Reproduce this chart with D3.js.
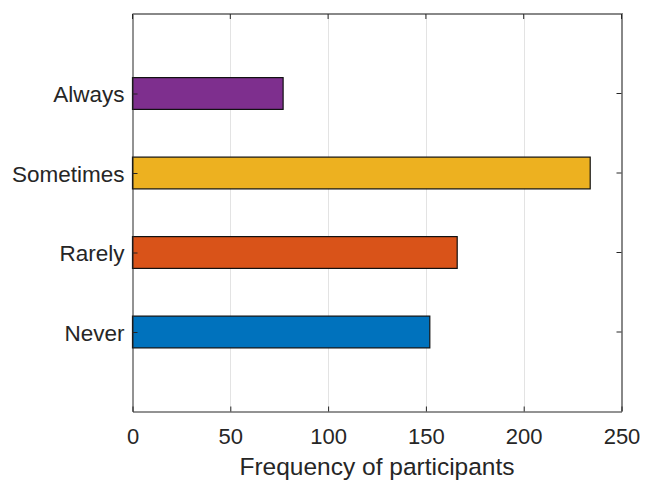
<!DOCTYPE html>
<html>
<head>
<meta charset="utf-8">
<script src="https://cdn.jsdelivr.net/npm/d3@7"></script>
<style>
  html, body { margin: 0; padding: 0; background: #fff; }
  svg { display: block; }
  text { font-family: "Liberation Sans", Arial, Helvetica, sans-serif; fill: #262626; }
</style>
</head>
<body>
<svg id="chart" width="650" height="480"></svg>
<script>
// Survey responses: how often participants answer each way
const categories = ["Never", "Rarely", "Sometimes", "Always"];
const counts = [152, 166, 234, 77];
const barColors = ["#0072BD", "#D95319", "#EDB120", "#7E2F8E"];
const xTicks = [0, 50, 100, 150, 200, 250];
const xLabel = "Frequency of participants";

const svg = d3.select("#chart");
const plotLeft = 132.5, plotRight = 621.5, plotTop = 14, plotBottom = 411.5;
const tickLen = 5;
const axisColor = "#262626";

const x = d3.scaleLinear().domain([0, 250]).range([plotLeft, plotRight]);
// categories sit at positions 1..4 on a 0..5 axis
const y = d3.scaleLinear().domain([0, 5]).range([plotBottom, plotTop]);
const barHalf = 0.2;

// vertical grid lines
svg.append("g")
  .selectAll("line")
  .data(xTicks.filter(t => t > 0 && t < 250))
  .join("line")
  .attr("x1", d => Math.round(x(d)) + 0.5)
  .attr("x2", d => Math.round(x(d)) + 0.5)
  .attr("y1", plotTop)
  .attr("y2", plotBottom)
  .attr("stroke", "#e3e3e3")
  .attr("stroke-width", 1);

// bars
svg.append("g")
  .selectAll("rect")
  .data(categories)
  .join("rect")
  .attr("x", x(0))
  .attr("y", (d, i) => y(i + 1 + barHalf))
  .attr("width", (d, i) => x(counts[i]) - x(0))
  .attr("height", (d, i) => y(i + 1 - barHalf) - y(i + 1 + barHalf))
  .attr("fill", (d, i) => barColors[i])
  .attr("stroke", "#111")
  .attr("stroke-width", 1.2);

// box: top and right edges
svg.append("line")
  .attr("x1", plotLeft).attr("x2", plotRight + 1).attr("y1", plotTop).attr("y2", plotTop)
  .attr("stroke", "#888").attr("stroke-width", 2);
svg.append("line")
  .attr("x1", plotRight + 0.5).attr("x2", plotRight + 0.5).attr("y1", plotTop - 1).attr("y2", plotBottom)
  .attr("stroke", "#888").attr("stroke-width", 2);

// bottom axis with inward ticks
const xAxis = d3.axisBottom(x)
  .tickValues(xTicks)
  .tickSizeInner(-tickLen)
  .tickSizeOuter(0)
  .tickPadding(17)
  .tickFormat(d3.format("d"));
const gx = svg.append("g").attr("transform", `translate(0,${plotBottom})`).call(xAxis);
gx.select(".domain").attr("stroke", axisColor);
gx.selectAll(".tick line").attr("stroke", axisColor);
gx.selectAll(".tick text").attr("font-size", 22).style("fill", "#262626")
  .attr("font-family", "Liberation Sans, Arial, sans-serif");

// top ticks
svg.append("g")
  .selectAll("line")
  .data(xTicks)
  .join("line")
  .attr("x1", d => x(d)).attr("x2", d => x(d))
  .attr("y1", plotTop).attr("y2", plotTop + tickLen)
  .attr("stroke", axisColor);

// left axis with category labels
const yAxis = d3.axisLeft(y)
  .tickValues([1, 2, 3, 4])
  .tickSizeInner(-tickLen)
  .tickSizeOuter(0)
  .tickPadding(8)
  .tickFormat(d => categories[d - 1]);
const gy = svg.append("g").attr("transform", `translate(${plotLeft},0)`).call(yAxis);
gy.select(".domain").attr("stroke", axisColor);
gy.selectAll(".tick line").attr("stroke", axisColor);
gy.selectAll(".tick text").attr("font-size", 22.5).attr("dy", "0.36em").style("fill", "#262626")
  .attr("font-family", "Liberation Sans, Arial, sans-serif");

// right ticks
svg.append("g")
  .selectAll("line")
  .data([1, 2, 3, 4])
  .join("line")
  .attr("x1", plotRight - tickLen).attr("x2", plotRight)
  .attr("y1", d => y(d)).attr("y2", d => y(d))
  .attr("stroke", axisColor);

// x axis title
svg.append("text")
  .attr("x", (plotLeft + plotRight) / 2)
  .attr("y", 475)
  .attr("text-anchor", "middle")
  .attr("font-size", 24.5)
  .text(xLabel);
</script>
</body>
</html>
